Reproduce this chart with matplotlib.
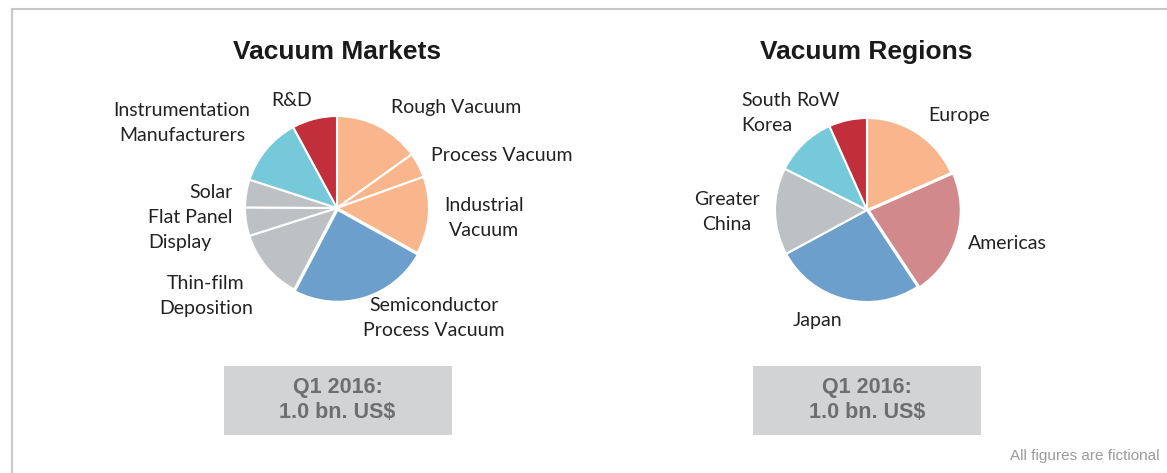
import matplotlib
matplotlib.use("Agg")
import matplotlib.pyplot as plt
from matplotlib.patches import Rectangle

# --- data ---
market_labels = ["Rough Vacuum", "Process Vacuum", "Industrial Vacuum",
                 "Semiconductor Process Vacuum", "Thin-film Deposition",
                 "Flat Panel Display", "Solar", "Instrumentation Manufacturers", "R&D"]
market_shares = [15.1, 4.4, 13.6, 24.6, 12.4, 5.0, 4.9, 12.1, 7.9]

region_labels = ["Europe", "Americas", "Japan", "Greater China", "South Korea", "RoW"]
region_shares = [18.4, 22.3, 26.4, 15.3, 10.9, 6.7]

box_text = "Q1 2016:\n1.0 bn. US$"
footnote = "All figures are fictional"

PEACH = "#F9B58B"
BLUE = "#6C9FCB"
GREY = "#BDC1C4"
TEAL = "#76C9D8"
RED = "#C12F3A"
ROSE = "#D1898C"

market_colors = [PEACH, PEACH, PEACH, BLUE, GREY, GREY, GREY, TEAL, RED]
region_colors = [PEACH, ROSE, BLUE, GREY, TEAL, RED]

W, H = 1167, 473
fig = plt.figure(figsize=(W / 100, H / 100), dpi=100)

# background axes in pixel coordinates (y measured from top)
bg = fig.add_axes([0, 0, 1, 1])
bg.set_xlim(0, W)
bg.set_ylim(H, 0)
bg.axis("off")

# frame (top and left only visible)
bg.plot([12, W], [9, 9], color="#C8C8CC", lw=1.5)
bg.plot([12, 12], [9, H], color="#C8C8CC", lw=1.5)

title_kw = dict(fontsize=19, fontweight="bold", family="Liberation Sans",
                color="#1a1a1a", ha="center", va="center")
bg.text(337, 52, "Vacuum Markets", **title_kw)
bg.text(866, 52, "Vacuum Regions", **title_kw)

# summary boxes
for cx in (337.5, 867):
    bg.add_patch(Rectangle((cx - 114, 366), 228, 69, color="#D2D3D5", lw=0))
    bg.text(cx, 400, box_text, ha="center", va="center", fontsize=15.5,
            fontweight="bold", family="Liberation Sans", color="#6D6E70",
            linespacing=1.2)

bg.text(1160, 456, footnote, ha="right", va="center", fontsize=11,
        family="Liberation Sans", color="#9A9A9A")

R = 92


def pie_axes(cx, cy, values, colors, explode):
    half = 1.1 * R
    ax = fig.add_axes([(cx - half) / W, (H - cy - half) / H, 2 * half / W, 2 * half / H])
    ax.pie(values, colors=colors, startangle=90, counterclock=False,
           explode=explode, wedgeprops=dict(edgecolor="white", linewidth=1.5))
    ax.set_xlim(-1.1, 1.1)
    ax.set_ylim(-1.1, 1.1)
    ax.set_aspect("equal")
    ax.axis("off")
    return ax


pie_axes(337, 208, market_shares, market_colors,
         [0, 0, 0, 0.02, 0, 0, 0, 0, 0])
pie_axes(867, 210, region_shares, region_colors,
         [0, 0.02, 0, 0, 0, 0])

lab_kw = dict(fontsize=14, family="Lato", color="#222222", linespacing=1.6)

# market labels
bg.text(456, 107, "Rough Vacuum", ha="center", va="center", **lab_kw)
bg.text(502, 155, "Process Vacuum", ha="center", va="center", **lab_kw)
bg.text(484, 218, "Industrial\nVacuum", ha="center", va="center", multialignment="center", **lab_kw)
bg.text(434, 318, "Semiconductor\nProcess Vacuum", ha="center", va="center", multialignment="center", **lab_kw)
bg.text(206, 296, "Thin-film\nDeposition", ha="center", va="center", multialignment="center", **lab_kw)
bg.text(148, 230, "Flat Panel\nDisplay", ha="left", va="center", multialignment="left", **lab_kw)
bg.text(233, 192, "Solar", ha="right", va="center", **lab_kw)
bg.text(182, 123, "Instrumentation\nManufacturers", ha="center", va="center", multialignment="center", **lab_kw)
bg.text(292, 100, "R&D", ha="center", va="center", **lab_kw)

# region labels
bg.text(959, 115, "Europe", ha="center", va="center", **lab_kw)
bg.text(1007, 243, "Americas", ha="center", va="center", **lab_kw)
bg.text(818, 320, "Japan", ha="center", va="center", **lab_kw)
bg.text(727, 212, "Greater\nChina", ha="center", va="center", multialignment="center", **lab_kw)
bg.text(741, 113, "South\nKorea", ha="left", va="center", multialignment="left", **lab_kw)
bg.text(818, 100, "RoW", ha="center", va="center", **lab_kw)

fig.savefig("out.png", dpi=100)
